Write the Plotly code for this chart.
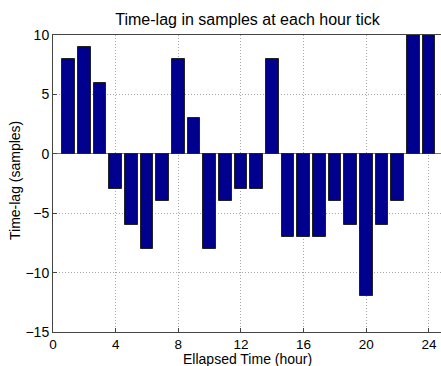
import plotly.graph_objects as go

hours = list(range(1, 25))
lags = [8, 9, 6, -3, -6, -8, -4, 8, 3, -8, -4, -3, -3, 8, -7, -7, -7, -4, -6, -12, -6, -4, 10, 10]
x_ticks = [0, 4, 8, 12, 16, 20, 24]
y_ticks = [-15, -10, -5, 0, 5, 10]

fig = go.Figure()
fig.add_trace(go.Bar(
    x=hours, y=lags, width=0.8,
    marker=dict(color="#00008F", line=dict(color="#222222", width=1)),
    cliponaxis=True,
))

font = "Liberation Sans, Arial, sans-serif"
fig.update_layout(
    width=441, height=366,
    margin=dict(l=53, r=0, t=35, b=34),
    plot_bgcolor="white", paper_bgcolor="white",
    showlegend=False,
    font=dict(family=font, size=13, color="black"),
    title=dict(text="Time-lag in samples at each hour tick", x=247.5 / 441, xanchor="center",
               y=1 - 19 / 366, yanchor="middle", font=dict(size=16, family=font)),
    bargap=0,
)
grid_dash = "1px,2px"
fig.update_xaxes(
    range=[0, 24.77], tickvals=x_ticks, ticks="inside", ticklen=4, tickcolor="#444",
    showline=True, linecolor="#444", linewidth=1, mirror=True,
    showgrid=True, gridcolor="#a8a8a8", griddash=grid_dash, gridwidth=1,
    zeroline=False,
    tickfont=dict(size=13.5),
)
fig.update_yaxes(
    range=[-15, 10], tickvals=y_ticks, ticks="inside", ticklen=4, tickcolor="#444",
    showline=True, linecolor="#444", linewidth=1,
    showgrid=True, gridcolor="#a8a8a8", griddash=grid_dash, gridwidth=1,
    zeroline=True, zerolinecolor="#777", zerolinewidth=1,
    tickfont=dict(size=14),
)
fig.add_annotation(text="Ellapsed Time (hour)", xref="paper", yref="paper",
                   x=(247.5 - 53) / 388, y=0, xanchor="center", yanchor="middle",
                   yshift=-26.5, showarrow=False, font=dict(size=14))
fig.add_annotation(text="Time-lag (samples)", xref="paper", yref="paper",
                   x=0, y=(332 - 181) / 297, xanchor="center", yanchor="middle",
                   xshift=-38, textangle=-90, showarrow=False, font=dict(size=14))
fig.write_html("out.html")
